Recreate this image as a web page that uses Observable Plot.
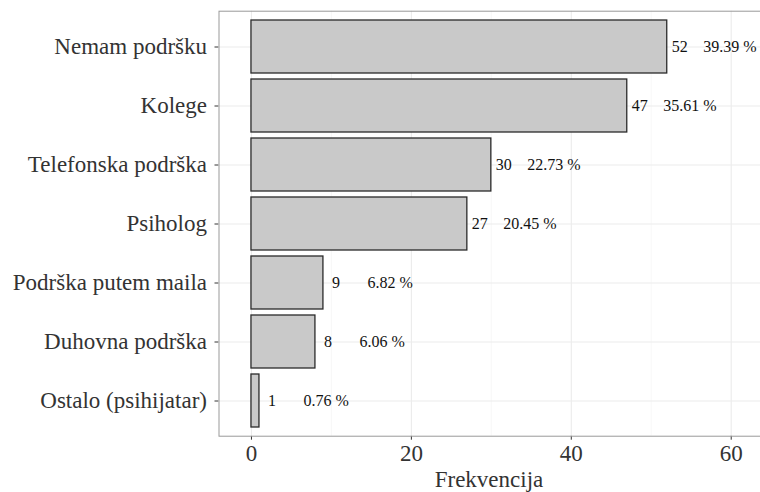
<!DOCTYPE html>
<html>
<head>
<meta charset="utf-8">
<script src="https://cdn.jsdelivr.net/npm/d3@7"></script>
<script src="https://cdn.jsdelivr.net/npm/@observablehq/plot@0.6"></script>
<style>
  html, body { margin: 0; padding: 0; background: #fff; overflow: hidden; }
  #chart { position: relative; width: 760px; height: 492px; overflow: hidden; }
  #chart svg, #chart svg text, #chart svg g { font-family: "Liberation Serif", serif !important; }
</style>
</head>
<body>
<div id="chart"></div>
<script>
const categories = ["Nemam podršku", "Kolege", "Telefonska podrška", "Psiholog", "Podrška putem maila", "Duhovna podrška", "Ostalo (psihijatar)"];
const counts = [52, 47, 30, 27, 9, 8, 1];
const percents = [39.39, 35.61, 22.73, 20.45, 6.82, 6.06, 0.76];
const xTicks = [0, 20, 40, 60];
const xMinor = [10, 30, 50, 70];
const xLabel = "Frekvencija";

const data = categories.map((c, i) => ({cat: c, n: counts[i], pct: percents[i]}));
const serif = "Liberation Serif, serif";

const plot = Plot.plot({
  width: 760,
  height: 492,
  marginLeft: 218.5,
  marginRight: 0,
  marginTop: 10.7,
  marginBottom: 56.3,
  style: {fontSize: "23px", color: "#333", background: "#fff", overflow: "hidden"},
  x: {domain: [-4.06, 85.3], range: [218.5, 933], ticks: xTicks, tickSize: 4, tickPadding: 4, label: null, tickFormat: d => String(d)},
  y: {domain: categories, paddingInner: 0.1, paddingOuter: 0.15, tickSize: 4, tickPadding: 8, label: null},
  marks: [
    Plot.ruleX(xMinor, {stroke: "#f3f3f3", strokeWidth: 0.6}),
    Plot.ruleX(xTicks, {stroke: "#ebebeb", strokeWidth: 1.1}),
    Plot.ruleY(categories, {y: d => d, stroke: "#ebebeb", strokeWidth: 1.1}),
    Plot.barX(data, {x: "n", y: "cat", fill: "#c9c9c9", stroke: "#2a2a2a", strokeWidth: 1.3}),
    Plot.text(data, {x: "n", y: "cat", text: d => (d.n < 10 ? "\u2008" : "") + d.n, textAnchor: "start", dx: 4.5, fontSize: 16, fill: "#111"}),
    Plot.text(data, {x: "n", y: "cat", text: d => (d.pct < 10 ? "\u2007" : "") + d.pct.toFixed(2) + " %", textAnchor: "start", dx: 36, fontSize: 16, fill: "#111"}),
    Plot.frame({stroke: "#999", strokeWidth: 1})
  ]
});
document.getElementById("chart").appendChild(plot);

d3.select(plot).append("text")
  .attr("x", 489).attr("y", 487)
  .attr("text-anchor", "middle")
  .attr("font-size", 23)
  .attr("fill", "#333")
  .text(xLabel);

d3.select(plot).selectAll("text").style("font-family", serif);
</script>
</body>
</html>
